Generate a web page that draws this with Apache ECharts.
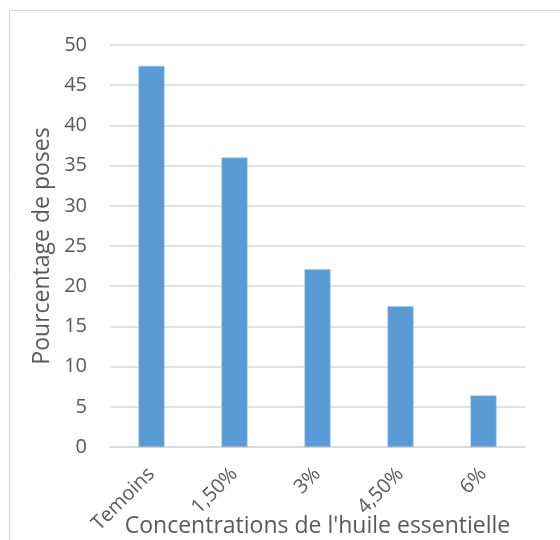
<!DOCTYPE html>
<html><head><meta charset="utf-8">
<script src="https://cdn.jsdelivr.net/npm/echarts@6/dist/echarts.min.js"></script>
<style>html,body{margin:0;padding:0;background:#fff}#c{width:560px;height:540px}</style>
</head><body><div id="c"></div>
<script>
const categories = ['Temoins', '1,50%', '3%', '4,50%', '6%'];
const values = [47.4, 36.0, 22.1, 17.5, 6.4];
const yTitle = 'Pourcentage de poses';
const xTitle = "Concentrations de l'huile essentielle";
const font = '"Open Sans", "Liberation Sans", sans-serif';
const chart = echarts.init(document.getElementById('c'), null, {renderer: 'canvas'});
chart.setOption({
  animation: false,
  backgroundColor: '#fff',
  graphic: [{type: 'rect', shape: {x: 9.5, y: 10.5, width: 600, height: 600}, style: {fill: 'none', stroke: '#d9d9d9', lineWidth: 1}}],
  grid: {left: 110, right: 35, top: 45, bottom: 93, containLabel: false, outerBoundsMode: 'none'},
  xAxis: {
    type: 'category', data: categories,
    name: xTitle, nameLocation: 'middle', nameGap: 68, nameMoveOverlap: false,
    nameTextStyle: {color: '#595959', fontSize: 23, fontFamily: font},
    axisLine: {lineStyle: {color: '#d9d9d9', width: 1.5}},
    axisTick: {show: false},
    axisLabel: {rotate: 45, color: '#595959', fontSize: 20, fontFamily: font, margin: 24}
  },
  yAxis: {
    type: 'value', min: 0, max: 50, interval: 5,
    name: yTitle, nameLocation: 'middle', nameGap: 56, nameMoveOverlap: false,
    nameTextStyle: {color: '#595959', fontSize: 23, fontFamily: font},
    axisLine: {show: false}, axisTick: {show: false},
    axisLabel: {color: '#595959', fontSize: 20, fontFamily: font, margin: 23},
    splitLine: {lineStyle: {color: '#d9d9d9', width: 1.5}}
  },
  series: [{
    type: 'bar', data: values, barWidth: 26,
    itemStyle: {color: '#5b9bd5', borderColor: '#9dc3e6', borderWidth: 0.5}
  }]
});
</script></body></html>
